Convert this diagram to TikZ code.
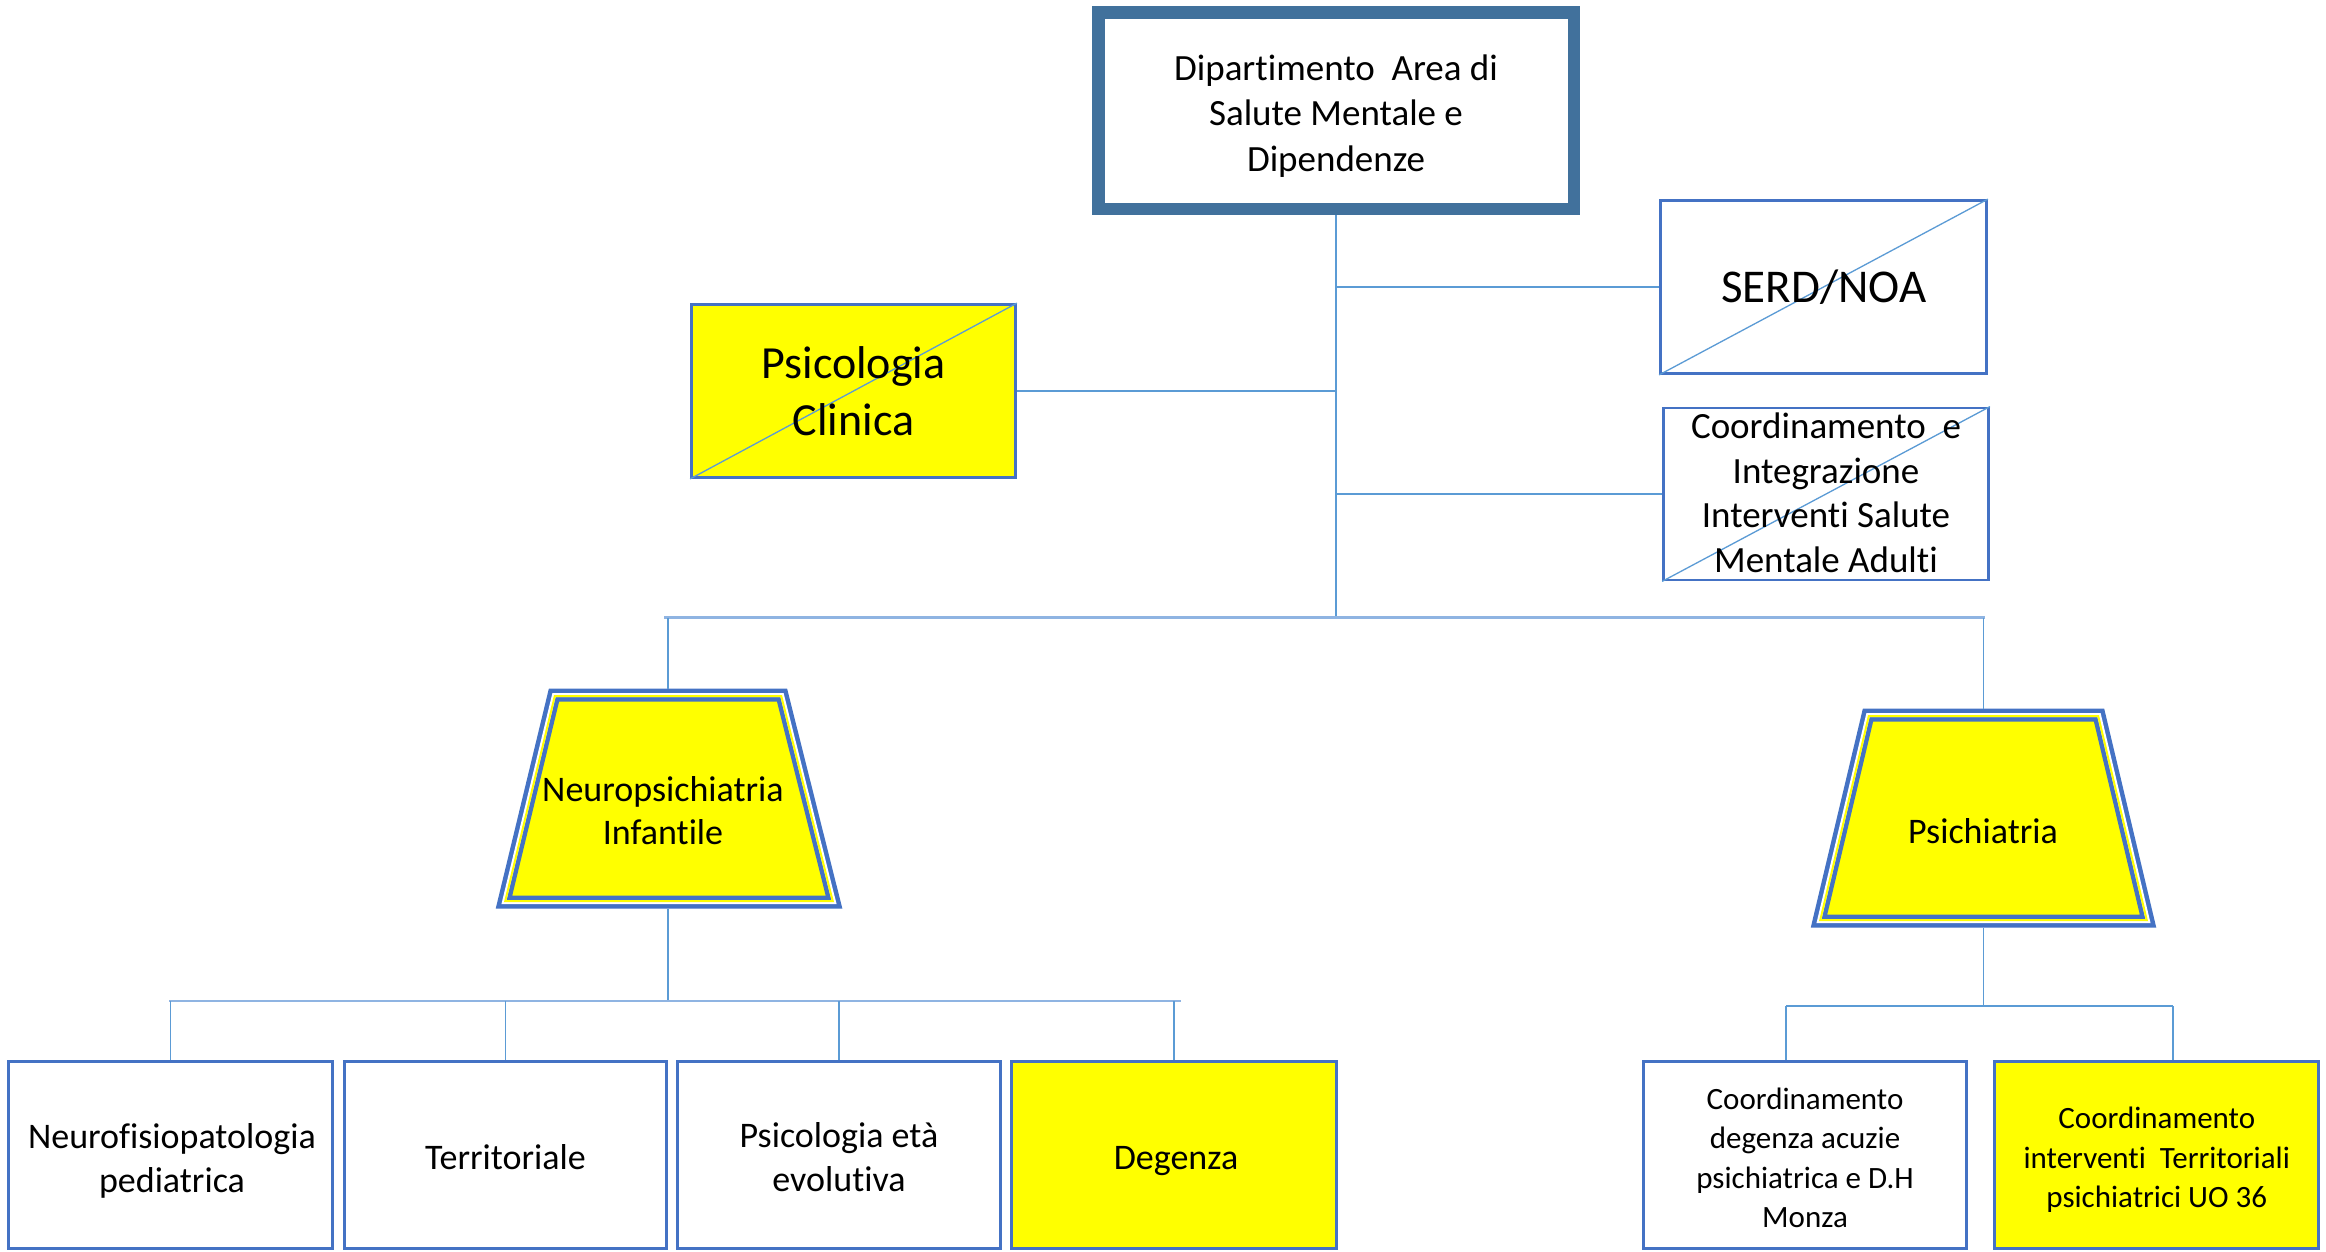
\documentclass[tikz,border=0pt]{standalone}
\usepackage{fontspec}
\setmainfont[Ligatures={NoCommon}]{Carlito}
\definecolor{topblue}{HTML}{41719C}
\definecolor{boxblue}{HTML}{4472C4}
\definecolor{connblue}{HTML}{5B9BD5}
\definecolor{busblue}{HTML}{8FB4E2}
\definecolor{yfill}{HTML}{FFFF00}
\begin{document}
\begin{tikzpicture}[x=1pt,y=-1pt,
  box/.style={draw=boxblue, line width=2.8pt, rectangle, inner sep=0pt},
  conn/.style={draw=connblue, line width=1.5pt},
  bus/.style={draw=busblue, line width=2.5pt},
  diag/.style={draw=connblue, line width=1.3pt},
  lbl/.style={align=center, inner sep=0pt, text=black},
  fA/.style={font=\fontsize{37}{45.5}\selectfont},
  fB/.style={font=\fontsize{46}{57}\selectfont},
  fS/.style={font=\fontsize{47}{57}\selectfont},
  fC/.style={font=\fontsize{37}{44.5}\selectfont},
  fD/.style={font=\fontsize{36}{44}\selectfont},
  fE/.style={font=\fontsize{31}{39.5}\selectfont}]
\useasboundingbox (0,0) rectangle (2326,1251);
\fill[white] (0,0) rectangle (2326,1251);

% boxes
\node[box, draw=topblue, line width=12.5pt, minimum width=475.5pt, minimum height=196.5pt] (top) at (1336,110.5) {};
\node[lbl, fA] (toplbl) at (1336,116) {Dipartimento\ \ Area di\\Salute Mentale e\\Dipendenze};

\node[box, fill=yfill, minimum width=324pt, minimum height=173pt] (psi) at (853.5,391) {};
\node[box, minimum width=326pt, minimum height=173pt] (serd) at (1823.5,287) {};
\node[box, minimum width=325pt, minimum height=172pt] (coord) at (1826,494) {};

\draw[diag] (psi.south west) -- (psi.north east);
\draw[diag] (serd.south west) -- (serd.north east);
\draw[diag] (coord.south west) -- (coord.north east);

\node[lbl, fB] (psilbl) at (853.5,391) {Psicologia\\Clinica};
\node[lbl, fS] (serdlbl) at (1824,287) {SERD/NOA};
\node[lbl, fC] (coordlbl) at (1826,493) {Coordinamento\ \ e\\Integrazione\\Interventi Salute\\Mentale Adulti};

% bottom boxes
\node[box, minimum width=324pt, minimum height=187pt] (b1) at (170.5,1155) {};
\node[box, minimum width=322pt, minimum height=187pt] (b2) at (505.5,1155) {};
\node[box, minimum width=322.5pt, minimum height=187pt] (b3) at (839,1155) {};
\node[box, fill=yfill, minimum width=325pt, minimum height=187pt] (b4) at (1174,1155) {};
\node[lbl, fD] (b1lbl) at (172,1161) {Neurofisiopatologia\\pediatrica};
\node[lbl, fD] (b2lbl) at (505.5,1157) {Territoriale};
\node[lbl, fD] (b3lbl) at (839,1157) {Psicologia età\\evolutiva};
\node[lbl, fD] (b4lbl) at (1176,1161) {Degenza};

\node[box, minimum width=323pt, minimum height=187pt] (p1) at (1805,1155) {};
\node[box, fill=yfill, minimum width=324pt, minimum height=187pt] (p2) at (2156.75,1155) {};
\node[lbl, fE] (p1lbl) at (1805,1158) {Coordinamento\\degenza acuzie\\psichiatrica e D.H\\Monza};
\node[lbl, fE] (p2lbl) at (2156.75,1160) {Coordinamento\\interventi\ \ Territoriali\\psichiatrici UO 36};

% trapezoid: Neuropsichiatria Infantile
\coordinate (na) at (554,695);
\coordinate (nb) at (782,695);
\coordinate (nc) at (834,902);
\coordinate (nd) at (504,902);
\fill[yfill] (na) -- (nb) -- (nc) -- (nd) -- cycle;
\draw[boxblue, line width=13pt] (na) -- (nb) -- (nc) -- (nd) -- cycle;
\draw[white, line width=4pt] (na) -- (nb) -- (nc) -- (nd) -- cycle;
\begin{scope}
\clip (na) -- (nb) -- (nc) -- (nd) -- cycle;
\draw[yfill, line width=4pt] (na) -- (nb) -- (nc) -- (nd) -- cycle;
\end{scope}
\node[lbl, font=\fontsize{36}{43}\selectfont] (neu) at (663,811) {Neuropsichiatria\\Infantile};
\coordinate (neutop) at (668,689);
\coordinate (neubot) at (668,908.5);

% trapezoid: Psichiatria
\coordinate (pa) at (1868,715);
\coordinate (pb) at (2099,715);
\coordinate (pc) at (2148,921);
\coordinate (pd) at (1819,921);
\fill[yfill] (pa) -- (pb) -- (pc) -- (pd) -- cycle;
\draw[boxblue, line width=13pt] (pa) -- (pb) -- (pc) -- (pd) -- cycle;
\draw[white, line width=4pt] (pa) -- (pb) -- (pc) -- (pd) -- cycle;
\begin{scope}
\clip (pa) -- (pb) -- (pc) -- (pd) -- cycle;
\draw[yfill, line width=4pt] (pa) -- (pb) -- (pc) -- (pd) -- cycle;
\end{scope}
\node[lbl, fD] (psich) at (1983,831) {Psichiatria};
\coordinate (psitop) at (1983.5,708.5);
\coordinate (psibot) at (1983.5,927.5);

% connectors from the department
\coordinate (busL) at (664,617.5);
\coordinate (busR) at (1985,617.5);
\draw[conn] (top.south) -- (top.south |- busL);
\draw[conn] (top.south |- serd.west) -- (serd.west);
\draw[conn] (top.south |- psi.east) -- (psi.east);
\draw[conn] (top.south |- coord.west) -- (coord.west);
\draw[bus] (busL) -- (busR);
\draw[conn] (neutop |- busL) -- (neutop);
\draw[conn] (psitop |- busR) -- (psitop);

% Neuropsichiatria children
\coordinate (bus2L) at (169,1001);
\coordinate (bus2R) at (1181,1001);
\draw[conn] (neubot) -- (neubot |- bus2L);
\draw[bus] (bus2L) -- (bus2R);
\draw[conn] (b1.north |- bus2L) -- (b1.north);
\draw[conn] (b2.north |- bus2L) -- (b2.north);
\draw[conn] (b3.north |- bus2L) -- (b3.north);
\draw[conn] (b4.north |- bus2L) -- (b4.north);

% Psichiatria children
\coordinate (d1) at (1786,1006);
\coordinate (d2) at (2173,1006);
\draw[conn] (psibot) -- (psibot |- d1);
\draw[conn] (d1) -- (d2);
\draw[conn] (d1) -- (d1 |- p1.north);
\draw[conn] (d2) -- (d2 |- p2.north);
\end{tikzpicture}
\end{document}
